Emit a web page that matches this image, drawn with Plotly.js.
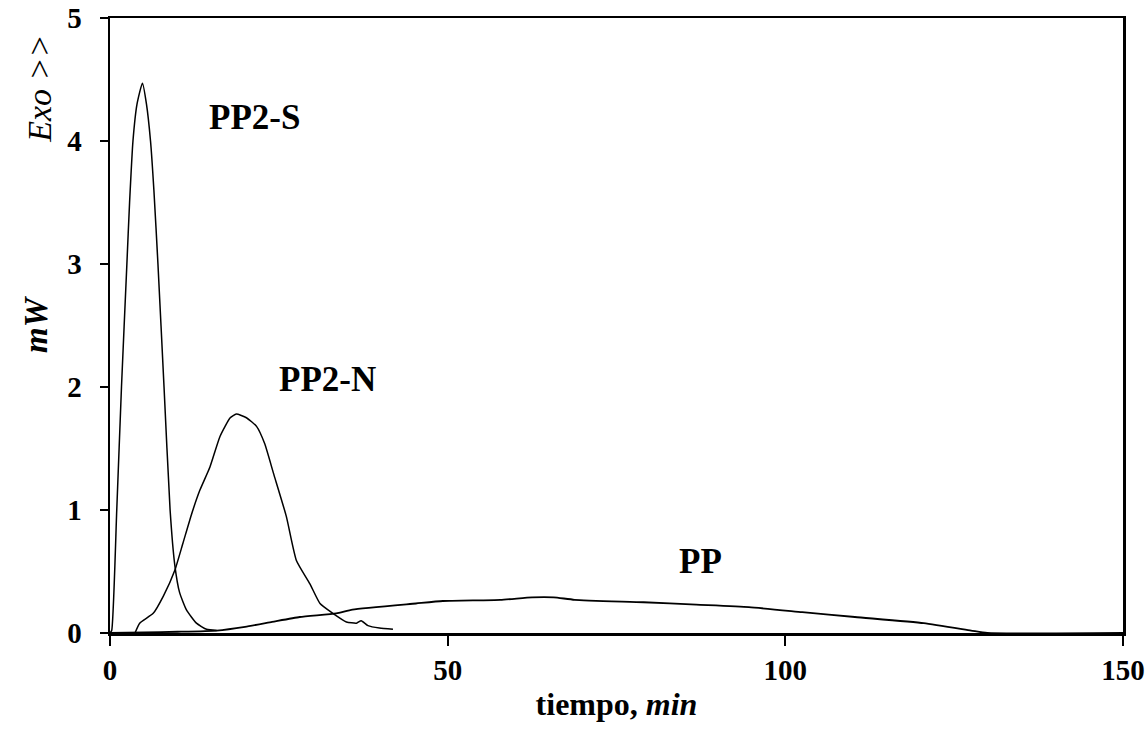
<!DOCTYPE html>
<html>
<head>
<meta charset="utf-8">
<script src="https://cdn.plot.ly/plotly-3.0.1.min.js"></script>
<style>html,body{margin:0;padding:0;background:#fff;}#chart{width:1145px;height:732px;}</style>
</head>
<body>
<div id="chart"></div>
<script>
// PP2-S curve (time in min, heat flow in mW)
const pp2sX = [0, 0.25, 1.0, 1.7, 2.5, 2.9, 3.4, 4.0, 4.8, 5.4, 6.0, 6.5, 7.1, 8.0, 8.9, 9.6, 10.3, 11.3, 12.8, 14.3, 15.8];
const pp2sY = [0, 0.02, 1.0, 2.0, 3.0, 3.5, 4.0, 4.3, 4.47, 4.3, 4.0, 3.6, 3.0, 2.0, 1.0, 0.55, 0.33, 0.19, 0.08, 0.03, 0.02];

// PP2-N curve
const pp2nX = [3.7, 4.4, 6.4, 7.9, 9.6, 10.8, 12.1, 13.3, 14.8, 16.3, 17.8, 18.7, 20.2, 21.7, 22.9, 24.2, 26.1, 27.6, 29.6, 31.1, 33.0, 35.0, 36.5, 37.2, 38.2, 39.9, 41.9];
const pp2nY = [0, 0.08, 0.16, 0.30, 0.51, 0.73, 0.97, 1.16, 1.35, 1.60, 1.75, 1.78, 1.75, 1.68, 1.54, 1.30, 0.95, 0.59, 0.40, 0.24, 0.16, 0.09, 0.08, 0.10, 0.06, 0.04, 0.03];

// PP curve
const ppX = [0, 5, 10, 15.8, 20, 24, 28.1, 33.5, 35.9, 45.3, 49.3, 57.8, 62.5, 65.7, 68.8, 79, 86.8, 94.6, 102.5, 110.3, 120.5, 127.5, 129.9, 150];
const ppY = [0, 0.005, 0.01, 0.02, 0.05, 0.09, 0.13, 0.16, 0.19, 0.24, 0.26, 0.27, 0.29, 0.29, 0.27, 0.25, 0.23, 0.21, 0.17, 0.13, 0.08, 0.02, 0, 0];

const xTicks = [0, 50, 100, 150];
const yTicks = [0, 1, 2, 3, 4, 5];

const serif = '"Liberation Serif", "Times New Roman", serif';
const lineStyle = {color: '#000', width: 1.5, shape: 'spline', smoothing: 0.5};

const traces = [
  {x: pp2sX, y: pp2sY, mode: 'lines', line: lineStyle, name: 'PP2-S', hoverinfo: 'skip'},
  {x: pp2nX, y: pp2nY, mode: 'lines', line: lineStyle, name: 'PP2-N', hoverinfo: 'skip'},
  {x: ppX, y: ppY, mode: 'lines', line: {color: '#000', width: 1.8, shape: 'spline', smoothing: 0.5}, name: 'PP', hoverinfo: 'skip'}
];

const layout = {
  width: 1145, height: 732,
  margin: {l: 110, r: 22, t: 18, b: 99},
  paper_bgcolor: '#fff', plot_bgcolor: '#fff',
  showlegend: false,
  font: {family: serif, color: '#000'},
  xaxis: {
    range: [0, 150], tickvals: xTicks, ticktext: xTicks.map(v => '<b>' + v + '</b>'),
    showgrid: false, zeroline: false,
    showline: true, linecolor: '#000', linewidth: 2.5, mirror: true,
    ticks: 'outside', ticklen: 10, tickwidth: 2, tickcolor: '#000',
    ticklabelstandoff: 0,
    tickfont: {family: serif, size: 29, color: '#000'},
    title: {text: '<b>tiempo, <i>min</i></b>', font: {family: serif, size: 32, color: '#000'}, standoff: 8}
  },
  yaxis: {
    range: [0, 5], tickvals: yTicks, ticktext: yTicks.map(v => '<b>' + v + '</b>'),
    showgrid: false, zeroline: false,
    showline: true, linecolor: '#000', linewidth: 2.5, mirror: true,
    ticks: 'outside', ticklen: 8, tickwidth: 2, tickcolor: '#000',
    ticklabelstandoff: 12,
    tickfont: {family: serif, size: 29, color: '#000'},
    title: {text: '<b><i>mW</i></b>', font: {family: serif, size: 33, color: '#000'}, standoff: 10}
  },
  annotations: [
    {x: 14.3, y: 4.19, xref: 'x', yref: 'y', text: '<b>PP2-S</b>', showarrow: false, font: {family: serif, size: 35, color: '#000'}, xanchor: 'left', yanchor: 'middle'},
    {x: 24.7, y: 2.06, xref: 'x', yref: 'y', text: '<b>PP2-N</b>', showarrow: false, font: {family: serif, size: 35, color: '#000'}, xanchor: 'left', yanchor: 'middle'},
    {x: 87.4, y: 0.58, xref: 'x', yref: 'y', text: '<b>PP</b>', showarrow: false, font: {family: serif, size: 35, color: '#000'}, xanchor: 'center', yanchor: 'middle'},
    {x: -0.069, y: 0.885, xref: 'paper', yref: 'paper', text: '<i>Exo &gt;&gt;</i>', showarrow: false, textangle: -90,
     font: {family: serif, size: 34, color: '#000'}, xanchor: 'center', yanchor: 'middle'}
  ]
};

Plotly.newPlot('chart', traces, layout, {staticPlot: true});
</script>
</body>
</html>
